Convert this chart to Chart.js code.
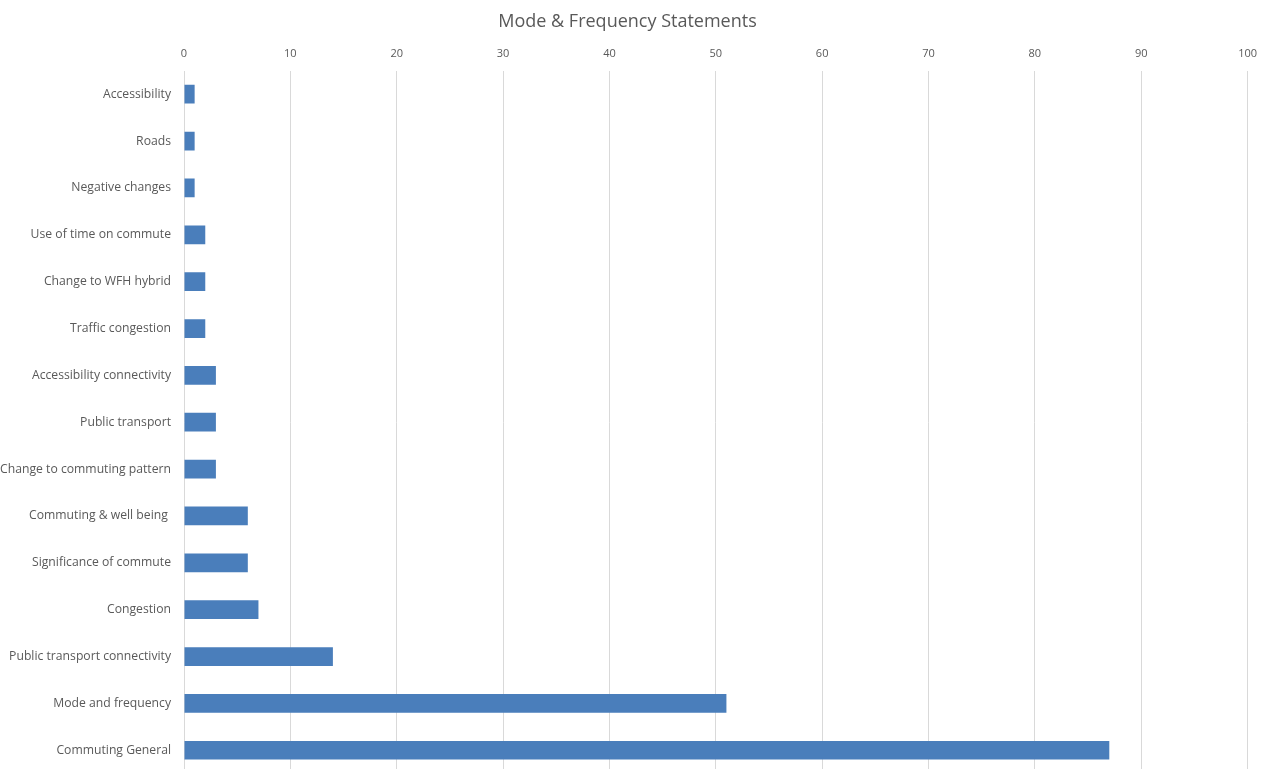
<!DOCTYPE html>
<html lang="en">
<head>
  <meta charset="UTF-8">
  <title>Mode & Frequency Statements</title>
  <script src="https://cdn.jsdelivr.net/npm/chart.js"></script>
  <style>
    html, body {
      margin: 0;
      padding: 0;
      background: #ffffff;
      overflow: hidden;
    }
    #wrap {
      width: 1267px;
      height: 786px;
    }
  </style>
</head>
<body>
  <div id="wrap"><canvas id="grafico" width="1267" height="786"></canvas></div>

  <script>
    const categorias = [
      'Accessibility', 'Roads', 'Negative changes', 'Use of time on commute',
      'Change to WFH hybrid', 'Traffic congestion', 'Accessibility connectivity',
      'Public transport', 'Change to commuting pattern', 'Commuting & well being ',
      'Significance of commute', 'Congestion', 'Public transport connectivity',
      'Mode and frequency', 'Commuting General'
    ];
    const valores = [1, 1, 1, 2, 2, 2, 3, 3, 3, 6, 6, 7, 14, 51, 87];
    const ejeMin = 0, ejeMax = 100, paso = 10;

    const gris = '#595959';
    const fuente = "'Open Sans', 'Liberation Sans', sans-serif";

    new Chart(document.getElementById('grafico').getContext('2d'), {
      type: 'bar',
      data: {
        labels: categorias,
        datasets: [{
          data: valores,
          backgroundColor: '#4a7ebb',
          categoryPercentage: 1,
          barPercentage: 0.4
        }]
      },
      options: {
        indexAxis: 'y',
        responsive: false,
        animation: false,
        layout: { padding: { left: 0, right: 12, top: 11, bottom: 0 } },
        plugins: {
          legend: { display: false },
          tooltip: { enabled: false },
          title: {
            display: true,
            text: 'Mode & Frequency Statements',
            color: gris,
            font: { family: fuente, size: 18, weight: 'normal' },
            padding: { top: 0, bottom: 5 }
          }
        },
        scales: {
          x: {
            position: 'top',
            min: ejeMin,
            max: ejeMax,
            ticks: { stepSize: paso, color: gris, font: { family: fuente, size: 11 }, padding: 10 },
            grid: { color: '#d9d9d9', drawTicks: false },
            border: { display: false }
          },
          y: {
            ticks: { color: gris, font: { family: fuente, size: 12.2 }, padding: 5 },
            grid: { display: false },
            border: { display: false },
            afterFit: (scale) => { scale.width = 184; }
          }
        }
      }
    });
  </script>
</body>
</html>
